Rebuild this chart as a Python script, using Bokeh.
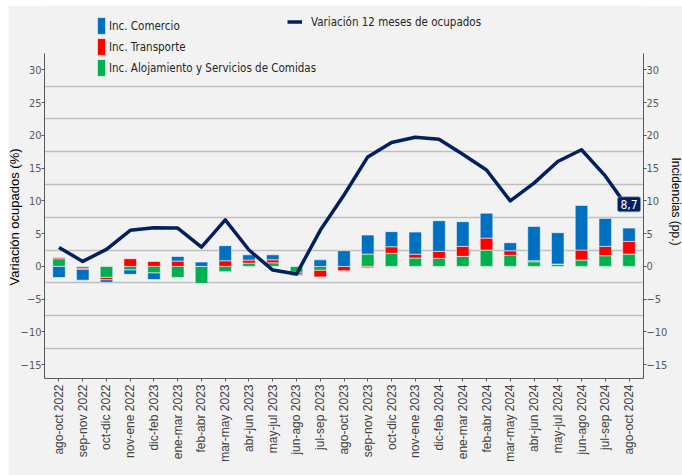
import math
from bokeh.plotting import figure
from bokeh.models import (Range1d, LinearAxis, FixedTicker, Legend, LegendItem, Label, Title)
from bokeh.embed import file_html
from bokeh.resources import INLINE

periods = ["ago-oct 2022", "sep-nov 2022", "oct-dic 2022", "nov-ene 2022", "dic-feb 2023",
           "ene-mar 2023", "feb-abr 2023", "mar-may 2023", "abr-jun 2023", "may-jul 2023",
           "jun-ago 2023", "jul-sep 2023", "ago-oct 2023", "sep-nov 2023", "oct-dic 2023",
           "nov-ene 2023", "dic-feb 2024", "ene-mar 2024", "feb-abr 2024", "mar-may 2024",
           "abr-jun 2024", "may-jul 2024", "jun-ago 2024", "jul-sep 2024", "ago-oct 2024"]

variacion = [2.9, 0.76, 2.6, 5.5, 5.9, 5.85, 2.95, 7.1, 2.5, -0.56, -1.17, 5.5,
             10.9, 16.7, 18.9, 19.7, 19.4, 17.1, 14.7, 10.0, 12.7, 16.0, 17.8, 13.8, 8.7]

comercio = [-1.7, -1.65, -0.4, -0.66, -1.0, 0.7, 0.66, 2.3, 0.81, 0.76, -0.2, 1.0,
            2.4, 2.9, 2.3, 3.36, 4.68, 3.76, 3.8, 1.22, 5.24, 4.78, 6.8, 4.27, 2.03]
transporte = [0.2, -0.15, -0.36, 1.17, 0.76, 0.81, 0.0, 0.86, 0.46, 0.46, -0.3, -1.0,
              -0.66, -0.2, 1.0, 0.6, 1.07, 1.53, 1.83, 0.71, 0.15, 0.0, 1.53, 1.42, 1.93]
alojamiento = [1.17, -0.3, -1.68, -0.55, -1.0, -1.68, -2.6, -0.8, 0.5, 0.55, -0.9, -0.6,
               0.0, 1.88, 2.0, 1.27, 1.22, 1.53, 2.49, 1.68, 0.71, 0.36, 0.97, 1.63, 1.88]

y_ticks = [-15, -10, -5, 0, 5, 10, 15, 20, 25, 30]
grid_ticks = [-12.5, -7.5, -2.5, 2.5, 7.5, 12.5, 17.5, 22.5, 27.5]
y_axis_bounds = (-17.1, 32.45)

BG = "#F2F2F2"
BLUE = "#0070C0"
RED = "#FF0000"
GREEN = "#00B050"
NAVY = "#002060"
COND = "DejaVu Sans Condensed"
SANS = "Liberation Sans"

n = len(periods)
xs = list(range(n))

p = figure(width=674, height=470, output_backend="svg", toolbar_location=None, title=None,
           x_range=Range1d(-0.61, n - 1 + 0.61), y_range=Range1d(-17.1, 39.8),
           background_fill_color=BG, border_fill_color=BG,
           min_border_left=0, min_border_right=0, min_border_top=0, min_border_bottom=97)
p.margin = (5, 0, 0, 8)
p.outline_line_color = None
p.xgrid.visible = False
p.ygrid.ticker = FixedTicker(ticks=grid_ticks)
p.ygrid.grid_line_color = "#BFBFBF"
p.ygrid.grid_line_width = 1.5

# stacked bars (positive and negative stacked separately)
pos = [0.0] * n
neg = [0.0] * n
renderers = {}
for name, vals, color in [("alo", alojamiento, GREEN), ("tra", transporte, RED), ("com", comercio, BLUE)]:
    bottoms, tops = [], []
    for i, v in enumerate(vals):
        if v >= 0:
            b = pos[i]; t = b + v; pos[i] = t
        else:
            b = neg[i]; t = b + v; neg[i] = t
        bottoms.append(b); tops.append(t)
    renderers[name] = p.vbar(x=xs, bottom=bottoms, top=tops, width=0.53,
                             fill_color=color, line_color="white", line_alpha=0.55, line_width=1)

line_r = p.line(xs, variacion, line_color=NAVY, line_width=3.5, line_join="round")

# axes
xa = p.xaxis[0]
xa.ticker = FixedTicker(ticks=xs)
xa.major_label_overrides = {i: s for i, s in enumerate(periods)}
xa.major_label_orientation = math.pi / 2
xa.major_label_text_font = SANS
xa.major_label_text_font_size = "12px"
xa.major_label_text_color = "#404040"
xa.axis_line_color = "#595959"
xa.major_tick_line_color = "#595959"
xa.major_tick_out = 3
xa.major_tick_in = 0
xa.minor_tick_line_color = None
xa.major_label_standoff = 3

ya = p.yaxis[0]
ra = LinearAxis()
p.add_layout(ra, "right")
for ax in (ya, ra):
    ax.ticker = FixedTicker(ticks=y_ticks)
    ax.bounds = y_axis_bounds
    ax.major_label_text_font = COND
    ax.major_label_text_font_size = "11px"
    ax.major_label_text_color = "#595959"
    ax.axis_line_color = "#595959"
    ax.major_tick_line_color = "#595959"
    ax.major_tick_out = 3
    ax.major_tick_in = 0
    ax.minor_tick_line_color = None
    ax.major_label_standoff = 0

# axis titles as side titles
p.add_layout(Title(text="Variación ocupados (%)", align="left", offset=93, standoff=-8,
                   text_font=SANS, text_font_size="13px", text_font_style="normal",
                   text_color="#000000"), "left")
p.add_layout(Title(text="Incidencias (pp.)", align="left", offset=152, standoff=-4,
                   text_font=SANS, text_font_size="12px", text_font_style="normal",
                   text_color="#000000"), "right")

# last value label
last = variacion[-1]
p.add_layout(Label(x=n - 1, y=last, y_offset=5, text=f"{last:.1f}".replace(".", ","),
                   text_align="center", text_baseline="middle", text_color="white",
                   text_font=COND, text_font_size="12px",
                   background_fill_color=NAVY, border_line_color="#8EA9DB", border_line_alpha=0.6,
                   padding=3, border_radius=2))

frame_left = 45
leg1 = Legend(items=[LegendItem(label="Inc. Comercio", renderers=[renderers["com"]]),
                     LegendItem(label="Inc. Transporte", renderers=[renderers["tra"]]),
                     LegendItem(label="Inc. Alojamiento y Servicios de Comidas", renderers=[renderers["alo"]])],
              location=(97 - frame_left, 378 - 78), orientation="vertical", glyph_width=10, glyph_height=21,
              label_height=21, spacing=-2, padding=0, margin=0, label_standoff=3,
              background_fill_alpha=0, border_line_alpha=0,
              label_text_font=COND, label_text_font_size="11.5px", label_text_color="#262626")
leg2 = Legend(items=[LegendItem(label="Variación 12 meses de ocupados", renderers=[line_r])],
              location=(288 - frame_left, 378 - 30), orientation="vertical", glyph_width=15, glyph_height=17,
              label_height=17, padding=0, margin=0, label_standoff=9,
              background_fill_alpha=0, border_line_alpha=0,
              label_text_font=COND, label_text_font_size="11.5px", label_text_color="#262626")
p.add_layout(leg1, "center")
p.add_layout(leg2, "center")

open("out.html", "w").write(file_html(p, INLINE))
